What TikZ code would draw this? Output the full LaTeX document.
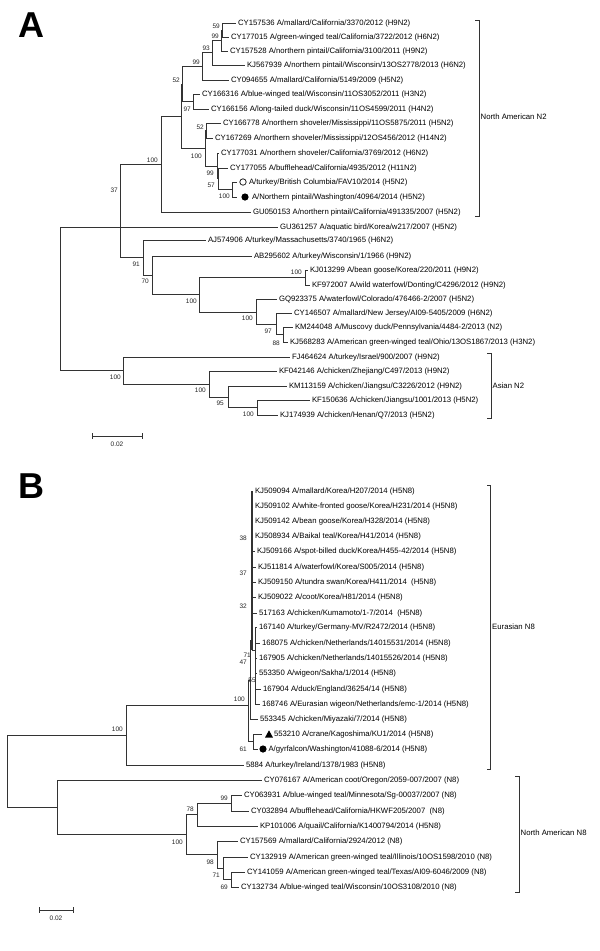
\documentclass[tikz,border=0pt]{standalone}
\usepackage{fontspec}
\setmainfont{Liberation Sans}
\newcounter{bsc}
\tikzset{
 br/.style={draw=black!80, line width=0.9pt},
 lbl/.style={anchor=west, inner xsep=1.8pt, inner ysep=0pt, font=\fontsize{7.75}{9}\selectfont},
 bsl/.style={anchor=east, inner sep=0pt, font=\fontsize{6.5}{7}\selectfont, text=black!85},
 grp/.style={anchor=west, inner xsep=1.5pt, inner ysep=0pt, font=\fontsize{7.75}{9}\selectfont},
 panel/.style={inner sep=0pt, font=\fontsize{36}{36}\selectfont\bfseries},
}
\newcommand\tleaf[5]{\node[lbl] (#1) at (#3,#4) {#5}; \draw[br] (#2,#4) -- (#1.west);}
\newcommand\tvl[3]{\draw[br] (#1,#2) -- (#1,#3);}
\newcommand\thl[3]{\draw[br] (#1,#3) -- (#2,#3);}
\newcommand\tbs[3]{\stepcounter{bsc}\node[bsl] (bs\arabic{bsc}) at (#1,#2) {#3};}
\begin{document}
\begin{tikzpicture}[x=1pt,y=-1pt]
\useasboundingbox[fill=white] (0,0) rectangle (600,951);
% ---------------- Panel A ----------------
\node[panel] (PA) at (31,25) {A};
\tleaf{a1}{222}{236}{23}{CY157536 A/mallard/California/3370/2012 (H9N2)}
\tleaf{a2}{222}{229}{37}{CY177015 A/green-winged teal/California/3722/2012 (H6N2)}
\tleaf{a3}{221}{228}{51}{CY157528 A/northern pintail/California/3100/2011 (H9N2)}
\tleaf{a4}{212}{245}{65}{KJ567939 A/northern pintail/Wisconsin/13OS2778/2013 (H6N2)}
\tleaf{a5}{202}{229}{80}{CY094655 A/mallard/California/5149/2009 (H5N2)}
\tleaf{a6}{193}{200}{94}{CY166316 A/blue-winged teal/Wisconsin/11OS3052/2011 (H3N2)}
\tleaf{a7}{193}{209}{109}{CY166156 A/long-tailed duck/Wisconsin/11OS4599/2011 (H4N2)}
\tleaf{a8}{206}{221}{123}{CY166778 A/northern shoveler/Mississippi/11OS5875/2011 (H5N2)}
\tleaf{a9}{206}{213}{138}{CY167269 A/northern shoveler/Mississippi/12OS456/2012 (H14N2)}
\tleaf{a10}{217}{219}{153}{CY177031 A/northern shoveler/California/3769/2012 (H6N2)}
\tleaf{a11}{218}{228}{168}{CY177055 A/bufflehead/California/4935/2012 (H11N2)}
\node[lbl] (a12) at (247,182) {A/turkey/British Columbia/FAV10/2014 (H5N2)};
\draw[br] (232,182) -- (237,182);
\draw[draw=black!85, line width=0.8pt] (243,182) circle (3.2);
\node[lbl] (a13) at (250,197) {A/Northern pintail/Washington/40964/2014 (H5N2)};
\draw[br] (232,197) -- (237,197);
\fill[black] (245,197) circle (3.6);
\tleaf{a14}{161}{251}{212}{GU050153 A/northern pintail/California/491335/2007 (H5N2)}
\tleaf{a15}{120}{278}{227}{GU361257 A/aquatic bird/Korea/w217/2007 (H5N2)}
\tleaf{a16}{143}{206}{240}{AJ574906 A/turkey/Massachusetts/3740/1965 (H6N2)}
\tleaf{a17}{152}{252}{256}{AB295602 A/turkey/Wisconsin/1/1966 (H9N2)}
\tleaf{a18}{305}{308}{270}{KJ013299 A/bean goose/Korea/220/2011 (H9N2)}
\tleaf{a19}{305}{310}{285}{KF972007 A/wild waterfowl/Donting/C4296/2012 (H9N2)}
\tleaf{a20}{256}{277}{299}{GQ923375 A/waterfowl/Colorado/476466-2/2007 (H5N2)}
\tleaf{a21}{276}{292}{313}{CY146507 A/mallard/New Jersey/AI09-5405/2009 (H6N2)}
\tleaf{a22}{283}{293}{327}{KM244048 A/Muscovy duck/Pennsylvania/4484-2/2013 (N2)}
\tleaf{a23}{283}{288}{342}{KJ568283 A/American green-winged teal/Ohio/13OS1867/2013 (H3N2)}
\tleaf{a24}{123}{290}{357}{FJ464624 A/turkey/Israel/900/2007 (H9N2)}
\tleaf{a25}{209}{277}{371}{KF042146 A/chicken/Zhejiang/C497/2013 (H9N2)}
\tleaf{a26}{228}{287}{386}{KM113159 A/chicken/Jiangsu/C3226/2012 (H9N2)}
\tleaf{a27}{257}{310}{400}{KF150636 A/chicken/Jiangsu/1001/2013 (H5N2)}
\tleaf{a28}{257}{278}{415}{KJ174939 A/chicken/Henan/Q7/2013 (H5N2)}
% internal nodes A
\tvl{222}{23}{37} \tbs{220}{26}{59}
\tvl{221}{30}{51} \thl{221}{222}{30} \tbs{219}{36}{99}
\tvl{212}{40.5}{65} \thl{212}{221}{40.5} \tbs{210}{48}{93}
\tvl{202}{52.75}{80} \thl{202}{212}{52.75} \tbs{200}{62}{99}
\tvl{193}{94}{109} \tbs{191}{109}{97}
\tvl{182}{66.4}{101.5} \thl{182}{202}{66.4} \thl{182}{193}{101.5} \tbs{180}{80}{52}
\tvl{206}{123}{138} \tbs{204}{127}{52}
\tvl{232}{182}{197} \tbs{230}{196}{100}
\tvl{218}{168}{189.5} \thl{218}{232}{189.5} \tbs{215}{185}{57}
\tvl{217}{153}{178.75} \thl{217}{218}{178.75} \tbs{214}{173}{99}
\tvl{205}{130.5}{166} \thl{205}{206}{130.5} \thl{205}{217}{166} \tbs{202}{156}{100}
\tvl{181}{84}{148} \thl{181}{182}{84} \thl{181}{205}{148}
\tvl{161}{116}{212} \thl{161}{181}{116} \tbs{158}{160}{100}
\tvl{120}{164}{257.5} \thl{120}{161}{164} \thl{120}{143}{257.5} \tbs{118}{190}{37}
\tvl{143}{240}{275} \thl{143}{152}{275} \tbs{140}{264}{91}
\tvl{152}{256}{294.5} \thl{152}{199}{294.5} \tbs{149}{281}{70}
\tvl{199}{277}{312} \thl{199}{305}{277} \thl{199}{256}{312} \tbs{197}{301}{100}
\tvl{305}{270}{285} \tbs{302}{272}{100}
\tvl{256}{299}{324} \thl{256}{276}{324} \tbs{253}{318}{100}
\tvl{276}{313}{334.5} \thl{276}{283}{334.5} \tbs{272}{331}{97}
\tvl{283}{327}{342} \tbs{280}{343}{88}
\tvl{257}{400}{415} \tbs{254}{414}{100}
\tvl{228}{386}{407.5} \thl{228}{257}{407.5} \tbs{224}{403}{95}
\tvl{209}{371}{397} \thl{209}{228}{397} \tbs{206}{390}{100}
\tvl{123}{357}{384} \thl{123}{209}{384} \tbs{121}{377}{100}
\tvl{60}{227}{370.5} \thl{60}{120}{227} \thl{60}{123}{370.5}
% brackets A
\draw[br] (475,20) -- (479,20) -- (479,216) -- (475,216);
\node[grp] (gA1) at (479,117) {North American N2};
\draw[br] (487,353) -- (491,353) -- (491,418) -- (487,418);
\node[grp] (gA2) at (491,386) {Asian N2};
% scale A
\draw[br] (92,436) -- (142,436);
\draw[br] (92,433) -- (92,439);
\draw[br] (142,433) -- (142,439);
\node[bsl, anchor=center] (sA) at (117,444) {0.02};
% ---------------- Panel B ----------------
\node[panel] (PB) at (31,486.5) {B};
\tleaf{b1}{252}{253}{491}{KJ509094 A/mallard/Korea/H207/2014 (H5N8)}
\tleaf{b2}{252}{253}{506}{KJ509102 A/white-fronted goose/Korea/H231/2014 (H5N8)}
\tleaf{b3}{252}{253}{521}{KJ509142 A/bean goose/Korea/H328/2014 (H5N8)}
\tleaf{b4}{252}{253}{536}{KJ508934 A/Baikal teal/Korea/H41/2014 (H5N8)}
\tleaf{b5}{252}{255}{551}{KJ509166 A/spot-billed duck/Korea/H455-42/2014 (H5N8)}
\tleaf{b6}{252}{256}{567}{KJ511814 A/waterfowl/Korea/S005/2014 (H5N8)}
\tleaf{b7}{252}{256}{582}{KJ509150 A/tundra swan/Korea/H411/2014 \ (H5N8)}
\tleaf{b8}{252}{256}{597}{KJ509022 A/coot/Korea/H81/2014 (H5N8)}
\tleaf{b9}{252}{257}{613}{517163 A/chicken/Kumamoto/1-7/2014 \ (H5N8)}
\tleaf{b10}{255}{257}{627}{167140 A/turkey/Germany-MV/R2472/2014 (H5N8)}
\tleaf{b11}{255}{260}{643}{168075 A/chicken/Netherlands/14015531/2014 (H5N8)}
\tleaf{b12}{255}{257}{658}{167905 A/chicken/Netherlands/14015526/2014 (H5N8)}
\tleaf{b13}{255}{257}{673}{553350 A/wigeon/Sakha/1/2014 (H5N8)}
\tleaf{b14}{255}{261}{689}{167904 A/duck/England/36254/14 (H5N8)}
\tleaf{b15}{255}{260}{704}{168746 A/Eurasian wigeon/Netherlands/emc-1/2014 (H5N8)}
\tleaf{b16}{250}{258}{719}{553345 A/chicken/Miyazaki/7/2014 (H5N8)}
\node[lbl] (b17) at (272,734) {553210 A/crane/Kagoshima/KU1/2014 (H5N8)};
\draw[br] (253,734) -- (262,734);
\fill[black] (265,737.5) -- (273,737.5) -- (269,730.3) -- cycle;
\node[lbl] (b18) at (266.5,749) {A/gyrfalcon/Washington/41088-6/2014 (H5N8)};
\draw[br] (253,749) -- (258,749);
\fill[black] (263,749) circle (3.6);
\tleaf{b19}{126}{244}{765}{5884 A/turkey/Ireland/1378/1983 (H5N8)}
\tleaf{b20}{57}{262}{780}{CY076167 A/American coot/Oregon/2059-007/2007 (N8)}
\tleaf{b21}{231}{242}{795}{CY063931 A/blue-winged teal/Minnesota/Sg-00037/2007 (N8)}
\tleaf{b22}{231}{249}{811}{CY032894 A/bufflehead/California/HKWF205/2007 \ (N8)}
\tleaf{b23}{197}{258}{826}{KP101006 A/quail/California/K1400794/2014 (H5N8)}
\tleaf{b24}{217}{238}{841}{CY157569 A/mallard/California/2924/2012 (N8)}
\tleaf{b25}{223}{248}{857}{CY132919 A/American green-winged teal/Illinois/10OS1598/2010 (N8)}
\tleaf{b26}{231}{245}{872}{CY141059 A/American green-winged teal/Texas/AI09-6046/2009 (N8)}
\tleaf{b27}{231}{239}{887}{CY132734 A/blue-winged teal/Wisconsin/10OS3108/2010 (N8)}
% internal nodes B
\draw[br, line width=1.4pt] (252,491) -- (252,650);
\tbs{247}{538}{38} \tbs{247}{573}{37} \tbs{247}{606}{32}
\tvl{255}{627}{704} \thl{252}{255}{650}
\tvl{250}{640}{719} \thl{250}{252}{640}
\tbs{251}{655}{71} \tbs{247}{662}{47}
\node[bsl, anchor=center] (bsx) at (252,680) {55};
\tvl{248}{680}{741} \thl{248}{250}{680} \thl{248}{253}{741} \tbs{245}{699}{100}
\tvl{253}{734}{749} \tbs{247}{749}{61}
\tvl{126}{705}{765} \thl{126}{248}{705} \tbs{123}{729}{100}
\tvl{231}{795}{811} \tbs{228}{798}{99}
\tvl{197}{803}{826} \thl{197}{231}{803} \tbs{194}{809}{78}
\tvl{231}{872}{887} \tbs{228}{887}{69}
\tvl{223}{857}{879.5} \thl{223}{231}{879.5} \tbs{220}{875}{71}
\tvl{217}{841}{868} \thl{217}{223}{868} \tbs{214}{862}{98}
\tvl{186}{814.5}{854.5} \thl{186}{197}{814.5} \thl{186}{217}{854.5} \tbs{183}{842}{100}
\tvl{57}{780}{834.5} \thl{57}{186}{834.5}
\tvl{7}{735}{807} \thl{7}{126}{735} \thl{7}{57}{807}
% brackets B
\draw[br] (487,485) -- (490.5,485) -- (490.5,769) -- (487,769);
\node[grp] (gB1) at (490.5,627) {Eurasian N8};
\draw[br] (515,776) -- (519,776) -- (519,892) -- (515,892);
\node[grp] (gB2) at (519,833) {North American N8};
% scale B
\draw[br] (39,910) -- (73,910);
\draw[br] (39,907) -- (39,913);
\draw[br] (73,907) -- (73,913);
\node[bsl, anchor=center] (sB) at (56,918) {0.02};
\end{tikzpicture}
\end{document}
